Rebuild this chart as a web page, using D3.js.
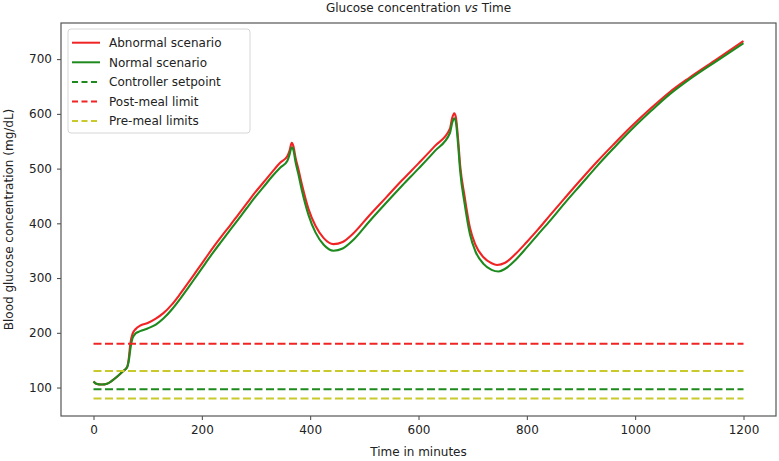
<!DOCTYPE html>
<html>
<head>
<meta charset="utf-8">
<script src="https://cdn.jsdelivr.net/npm/d3@7"></script>
<style>
  body { margin: 0; background: #fff; }
  svg { display: block; font-family: "DejaVu Sans", Verdana, sans-serif; }
</style>
</head>
<body>
<svg id="chart" width="779" height="461"></svg>
<script>
// ---- data ----
const abnormalTime = [0,5,15,25,35,45,55,62,65,68,72,78,86,100,115,129,145,160,175,191,206,221,237,252,268,283,298,314,330,345,358,362,366,369,373,378,385,397,410,425,443,460,480,508,540,570,600,630,658,662,666,669,673,677,685,695,705,720,735,745,760,780,800,820,843,870,900,930,960,991,1030,1064,1100,1151,1200];
const abnormalGlucose = [111,107,105.5,107,113,121,130,137,152,180,198,207,213,218,226,236,252,271,291.5,314,335,356,377,396,417,436.5,456,475,494,511,523,533,547,541,520,500,470,426,395,373,362,366,382,413,447,479,509.5,541,573,592,601,594,555,505,450,392,361,338,327,324,328,345,366,388,415,446,480,513,544,575,611,640,666,700,733];

const normalTime = [0,5,15,25,35,45,55,62,65,68,72,78,86,100,115,129,145,160,175,191,206,221,237,252,268,283,298,314,330,345,358,362,366,369,373,378,385,397,410,425,443,460,480,508,540,570,600,630,658,662,666,669,673,677,685,695,705,720,735,748,760,780,800,820,843,870,900,930,960,991,1030,1064,1100,1151,1200];
const normalGlucose = [111,107,105.5,107,113,121,130,137,148,170,190,199,203,208,215,226,243,262,282.5,305,326,347,368,387.5,408,428,447.5,466.5,486,502,514.5,526,539,534,512,491,459,415,383,361,350,354,370,402,437,469,500,532,565,583,592,585,545,495,437,380,349,326,315,312,317,334,356,379,405,437,471,505,537,569,606,636,663,697,729];

const limitStart = 0, limitEnd = 1200;
const controllerSetpoint = 97;
const postMealLimit = 180;
const preMealLimits = [130, 80];

const xTicks = [0, 200, 400, 600, 800, 1000, 1200];
const yTicks = [100, 200, 300, 400, 500, 600, 700];

const legendLabels = ["Abnormal scenario", "Normal scenario", "Controller setpoint", "Post-meal limit", "Pre-meal limits"];

// ---- drawing ----
(function () {
const RED = "#f02424", GREEN = "#1e8a1e", YEL = "#c9c92c";
const svg = d3.select("#chart");
const mLeft = 61, mRight = 776, mTop = 23, mBottom = 416;

const x = d3.scaleLinear().domain([-60, 1260]).range([mLeft, mRight]);
const y = d3.scaleLinear().domain([48, 766]).range([mBottom, mTop]);

const line = d3.line().x(d => x(d[0])).y(d => y(d[1])).curve(d3.curveMonotoneX);

const plot = svg.append("g");

plot.append("path")
  .datum(d3.zip(abnormalTime, abnormalGlucose))
  .attr("d", line).attr("fill", "none").attr("stroke", RED).attr("stroke-width", 2.1)
  .attr("stroke-linejoin", "round");
plot.append("path")
  .datum(d3.zip(normalTime, normalGlucose))
  .attr("d", line).attr("fill", "none").attr("stroke", GREEN).attr("stroke-width", 2.1)
  .attr("stroke-linejoin", "round");

function hline(v, color) {
  plot.append("line")
    .attr("x1", x(limitStart)).attr("x2", x(limitEnd))
    .attr("y1", y(v)).attr("y2", y(v))
    .attr("stroke", color).attr("stroke-width", 2)
    .attr("stroke-dasharray", "8,3.5");
}
hline(controllerSetpoint, GREEN);
hline(postMealLimit, RED);
preMealLimits.forEach(v => hline(v, YEL));

// axes
const xAxis = d3.axisBottom(x).tickValues(xTicks).tickSize(4).tickPadding(5).tickFormat(d3.format("d"));
const yAxis = d3.axisLeft(y).tickValues(yTicks).tickSize(4).tickPadding(5).tickFormat(d3.format("d"));

const gx = svg.append("g").attr("transform", `translate(0,${mBottom})`).call(xAxis);
const gy = svg.append("g").attr("transform", `translate(${mLeft},0)`).call(yAxis);
[gx, gy].forEach(g => {
  g.select(".domain").remove();
  g.selectAll(".tick line").attr("stroke", "#444").attr("stroke-width", 1);
  g.selectAll(".tick text").attr("fill", "#222").style("font-size", "12px")
    .style("font-family", "'DejaVu Sans', Verdana, sans-serif");
});

// frame
svg.append("rect")
  .attr("x", mLeft).attr("y", mTop).attr("width", mRight - mLeft).attr("height", mBottom - mTop)
  .attr("fill", "none").attr("stroke", "#555").attr("stroke-width", 1.2);

// title
const title = svg.append("text")
  .attr("x", (mLeft + mRight) / 2).attr("y", 12)
  .attr("text-anchor", "middle").style("font-size", "12px").attr("fill", "#222");
title.append("tspan").text("Glucose concentration ");
title.append("tspan").style("font-style", "italic").text("vs");
title.append("tspan").text(" Time");

// axis labels
svg.append("text")
  .attr("x", (mLeft + mRight) / 2).attr("y", 456)
  .attr("text-anchor", "middle").style("font-size", "12px").attr("fill", "#222")
  .text("Time in minutes");
svg.append("text")
  .attr("transform", `translate(13,${(mTop + mBottom) / 2}) rotate(-90)`)
  .attr("text-anchor", "middle").style("font-size", "12px").attr("fill", "#222")
  .text("Blood glucose concentration (mg/dL)");

// legend
const lg = svg.append("g");
lg.append("rect")
  .attr("x", 68).attr("y", 29).attr("width", 182).attr("height", 104)
  .attr("rx", 3).attr("fill", "#fff").attr("fill-opacity", 0.85)
  .attr("stroke", "#d6d6d6").attr("stroke-width", 1);
const legendStyles = [
  { color: RED, dash: null },
  { color: GREEN, dash: null },
  { color: GREEN, dash: "6,3.5" },
  { color: RED, dash: "6,3.5" },
  { color: YEL, dash: "6,3.5" }
];
legendLabels.forEach((label, i) => {
  const yy = 42.7 + i * 19.6;
  const ln = lg.append("line")
    .attr("x1", 72).attr("x2", 100).attr("y1", yy).attr("y2", yy)
    .attr("stroke", legendStyles[i].color).attr("stroke-width", 2);
  if (legendStyles[i].dash) ln.attr("stroke-dasharray", legendStyles[i].dash);
  lg.append("text")
    .attr("x", 109).attr("y", yy).attr("dy", "0.35em")
    .style("font-size", "12px").attr("fill", "#222")
    .text(label);
});
})();
</script>
</body>
</html>
